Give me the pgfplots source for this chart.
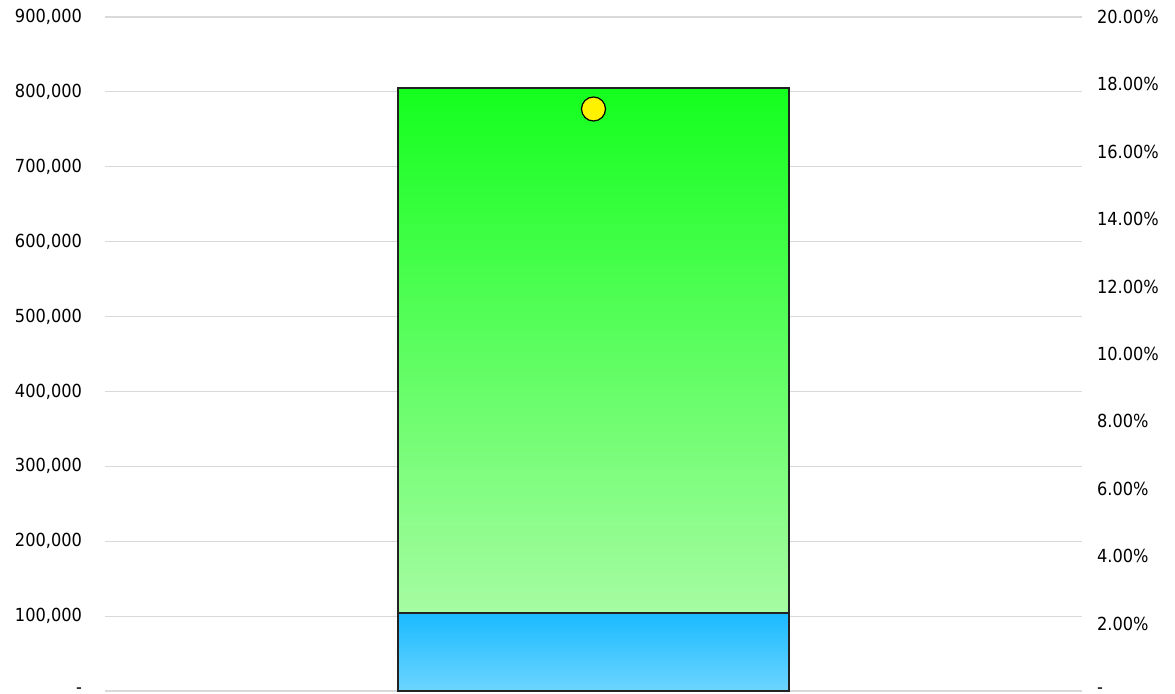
\documentclass[border=0pt]{standalone}
\usepackage{pgfplots}
\pgfplotsset{compat=1.18}
\usepackage{fontspec}
\setmainfont{DejaVu Sans Condensed}
\definecolor{gtop}{HTML}{14FF1E}
\definecolor{gbot}{HTML}{A6FCA2}
\definecolor{btop}{HTML}{1ABAFF}
\definecolor{bbot}{HTML}{6DD5FF}
\definecolor{gridc}{HTML}{D9D9D9}
\definecolor{edge}{HTML}{222222}
\begin{document}
\begin{tikzpicture}
\begin{axis}[name=ax,
  scale only axis, width=488.5pt, height=337pt,
  xmin=-1, xmax=1, ymin=0, ymax=900000,
  ybar stacked, bar width=195.5pt,
  xtick=\empty,
  axis line style={draw=none},
  major tick length=0pt,
  ytick pos=left,
  ytick={0,100000,200000,300000,400000,500000,600000,700000,800000,900000},
  yticklabels={{-},{100,000},{200,000},{300,000},{400,000},{500,000},{600,000},{700,000},{800,000},{900,000}},
  yticklabel style={font=\fontsize{9}{10}\selectfont, xshift=-8pt},
  ymajorgrids, grid style={draw=gridc, line width=0.6pt},
  clip=false,
]
\addplot[draw=edge, line width=1pt, top color=btop, bottom color=bbot] coordinates {(0,104150)};
\addplot[draw=edge, line width=1pt, top color=gtop, bottom color=gbot] coordinates {(0,701050)};
\end{axis}
\begin{axis}[
  scale only axis, width=488.5pt, height=337pt,
  xmin=-1, xmax=1, ymin=0, ymax=20,
  xtick=\empty,
  axis line style={draw=none},
  major tick length=0pt,
  axis y line*=right,
  ytick={0,2,4,6,8,10,12,14,16,18,20},
  yticklabels={{-},{2.00\%},{4.00\%},{6.00\%},{8.00\%},{10.00\%},{12.00\%},{14.00\%},{16.00\%},{18.00\%},{20.00\%}},
  yticklabel style={font=\fontsize{9}{10}\selectfont, xshift=4pt},
  clip=false,
]
\addplot[only marks, mark=*, mark size=6pt, mark options={fill=yellow, draw=black, line width=0.6pt}] coordinates {(0,17.27)};
\end{axis}
\pgfresetboundingbox
\path ([xshift=-52.5pt,yshift=-1.5pt]ax.south west) rectangle ([xshift=46.5pt,yshift=8.5pt]ax.north east);
\end{tikzpicture}
\end{document}
